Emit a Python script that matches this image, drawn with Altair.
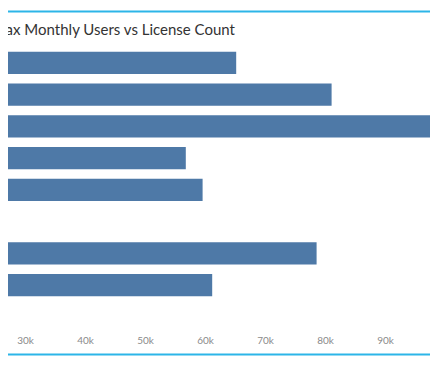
import altair as alt
import pandas as pd

categories = ["Account A", "Account B", "Account C", "Account D",
              "Account E", "Account F", "Account G", "Account H"]
max_users = [65200, 81100, 104000, 56800, 59600, 21000, 78600, 61200]
tick_values = [30000, 40000, 50000, 60000, 70000, 80000, 90000]
title_text = "Max Monthly Users vs License Count"

df = pd.DataFrame({"category": categories, "users": max_users})

bars = alt.Chart(df).mark_bar(color="#4e79a7", clip=True).encode(
    x=alt.X("users:Q",
            scale=alt.Scale(domain=[27167, 97500], zero=False, nice=False),
            axis=alt.Axis(values=tick_values, labelExpr="datum.value / 1000 + 'k'",
                          title=None, grid=False, domain=False, ticks=False,
                          labelPadding=34.5, labelFontSize=10, labelColor="#8a8a8a",
                          labelFont="Lato", labelFlush=False, labelOverlap=False)),
    y=alt.Y("category:N", sort=categories, axis=None,
            scale=alt.Scale(paddingInner=0.306, paddingOuter=0.153)),
)

one = alt.Data(values=[{"k": 1}])

title = alt.Chart(one).mark_text(
    text=title_text, font="Lato", fontSize=15, color="#333333",
    align="right", baseline="alphabetic"
).encode(x=alt.value(227), y=alt.value(-12))

top_line = alt.Chart(one).mark_rule(color="#2cb5e8", strokeWidth=2).encode(
    x=alt.value(-10), x2=alt.value(440), y=alt.value(-35.5))
bottom_line = alt.Chart(one).mark_rule(color="#2cb5e8", strokeWidth=2).encode(
    x=alt.value(-10), x2=alt.value(440), y=alt.value(307.5))

chart = alt.layer(bars, title, top_line, bottom_line).properties(
    width=422, height=254,
    autosize=alt.AutoSizeParams(type="none"),
    padding={"left": 0, "right": 0, "top": 39, "bottom": 57},
).configure(background="white").configure_view(stroke=None)

chart.save("out.html", embed_options={"renderer": "svg", "actions": False})
